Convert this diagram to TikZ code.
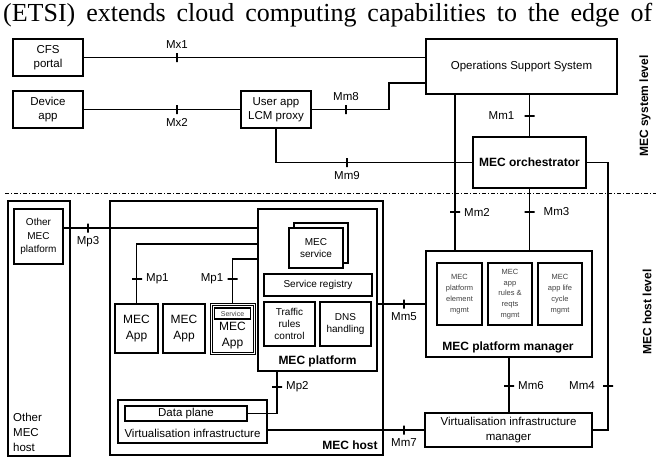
\documentclass[tikz,border=0pt]{standalone}
\usepackage{fontspec}
\setmainfont{Liberation Sans}
\newfontfamily\paperfont{Liberation Serif}
\newcommand{\fs}[2]{\fontsize{#1}{#2}\selectfont}

\begin{document}
\begin{tikzpicture}[x=1pt,y=-1pt]
\tikzstyle{box}=[draw,line width=1.4pt,align=center,inner sep=0pt,font=\fs{11.5}{14}]
\tikzstyle{small}=[box,font=\fs{7.5}{10.8},text=black!75]
\tikzstyle{vt}=[draw,line width=1.4pt,inner sep=0pt,minimum width=0pt,minimum height=9pt,label distance=5pt]
\tikzstyle{ht}=[draw,line width=1.4pt,inner sep=0pt,minimum width=10pt,minimum height=0pt,label distance=1pt]
\tikzstyle{wire}=[line width=1.4pt]
\tikzstyle{every label}=[font=\fs{11.5}{14}]
\useasboundingbox (0,0) rectangle (656,458);

\node[anchor=base west,inner sep=0pt,font=\paperfont\fs{26}{30}] (cap) at (3,21) {\makebox[649pt][s]{(ETSI) extends cloud computing capabilities to the edge of}};

% system level
\node[box,minimum width=70pt,minimum height=37pt] (cfs) at (48,57.5) {CFS\\portal};
\node[box,minimum width=70pt,minimum height=37pt] (dev) at (48,109.5) {Device\\app};
\node[box,minimum width=70pt,minimum height=37pt] (proxy) at (276,109.5) {User app\\LCM proxy};
\node[box,minimum width=191pt,minimum height=55pt] (oss) at (521.5,66.5) {Operations Support System};
\node[box,minimum width=113pt,minimum height=51pt,font=\bfseries\fs{12}{14}] (orch) at (529.5,162.5) {MEC orchestrator};

\draw[dash pattern=on 4pt off 2pt on 1pt off 2pt,line width=1pt] (5,193) -- (656,193);

% host level
\node[box,minimum width=62pt,minimum height=255pt] (omh) at (39,328.5) {};
\node[anchor=west,align=left,inner sep=0pt,font=\fs{11.5}{15}] (omhtxt) at (13,432) {Other\\MEC\\host};
\node[box,minimum width=49pt,minimum height=55pt,font=\fs{10}{13.5}] (omp) at (38.5,236.5) {Other\\MEC\\platform};
\node[box,minimum width=273pt,minimum height=254pt] (host) at (246.5,328) {};
\node[font=\bfseries\fs{12}{14}] (hosttxt) at (350,445) {MEC host};

\node[box,minimum width=119pt,minimum height=162pt] (mp) at (317.5,290) {};
\node[font=\bfseries\fs{12}{14}] (mptxt) at (317.5,361) {MEC platform};
\node[box,minimum width=54pt,minimum height=40pt] (svc2) at (321,243) {};
\node[box,fill=white,minimum width=54pt,minimum height=40pt,font=\fs{10}{12}] (svc) at (316,248) {MEC\\service};
\node[box,minimum width=108pt,minimum height=22pt,font=\fs{10}{12}] (reg) at (318,285) {Service registry};
\node[box,minimum width=51pt,minimum height=44pt,font=\fs{10}{12}] (trc) at (289.5,324) {Traffic\\rules\\control};
\node[box,minimum width=51pt,minimum height=44pt,font=\fs{10}{12}] (dns) at (345.5,324) {DNS\\handling};

\node[box,minimum width=43pt,minimum height=49pt,font=\fs{12}{16}] (app1) at (136.5,328.5) {MEC\\App};
\node[box,minimum width=42pt,minimum height=49pt,font=\fs{12}{16}] (app2) at (184,328.5) {MEC\\App};
\node[box,line width=1pt,double,double distance=1pt,minimum width=43pt,minimum height=49pt] (app3) at (232.5,328.5) {};
\node[box,line width=1.8pt,minimum width=36pt,minimum height=11pt,font=\fs{7}{8},text=black!75] (srv) at (232.5,313.5) {Service};
\node[align=center,inner sep=0pt,font=\fs{12}{16}] (app3txt) at (232.5,336) {MEC\\App};

\node[box,minimum width=149pt,minimum height=43pt] (vi) at (192.5,421.5) {};
\node[inner sep=0pt,font=\fs{11.5}{14}] (vitxt) at (192.5,433) {Virtualisation infrastructure};
\node[box,minimum width=122pt,minimum height=15pt] (dp) at (186,413.5) {Data plane};

\node[box,minimum width=166pt,minimum height=106pt] (pm) at (509,304) {};
\node[font=\bfseries\fs{12}{14}] (pmtxt) at (508,347) {MEC platform manager};
\node[small,minimum width=45pt,minimum height=62pt] (pm1) at (459.5,294) {MEC\\platform\\element\\mgmt};
\node[small,minimum width=44pt,minimum height=62pt] (pm2) at (510,294) {MEC\\app\\rules \&\\reqts\\mgmt};
\node[small,minimum width=44pt,minimum height=62pt] (pm3) at (560,294) {MEC\\app life\\cycle\\mgmt};
\node[box,minimum width=167pt,minimum height=34pt,font=\fs{11.5}{15}] (vim) at (508.5,430) {Virtualisation infrastructure\\manager};

\node[rotate=90,font=\bfseries\fs{12}{14}] (sys) at (645,106) {MEC system level};
\node[rotate=90,font=\bfseries\fs{12}{14}] (hl) at (647,312) {MEC host level};

% reference points
\coordinate (k8) at (389,83);
\coordinate (k2) at (455,0);
\coordinate (k4) at (608,0);
\coordinate (k3) at (0,228);
\coordinate (k1a) at (0,244);
\coordinate (k1b) at (0,259);
\coordinate (kp2) at (277,0);

\draw[wire] (cfs) -- (cfs -| oss.west);
\draw[wire] (dev) -- (proxy);
\draw[wire] (proxy.east) -| (k8) -- (k8 -| oss.west);
\draw[wire] (proxy.south) |- (orch.west);
\draw[wire] (orch) -- (orch |- oss.south);
\draw[wire] (k2 |- oss.south) -- (k2 |- pm.north);
\draw[wire] (orch.south) -- (orch.south |- pm.north);
\draw[wire] (orch.east) -| (k4 |- vim.east) -- (vim.east);
\draw[wire] (pm.south) -- (pm.south |- vim.north);
\draw[wire] (mp.east |- pm.west) -- (pm.west);
\draw[wire] (vim.west) -- (vim.west -| vi.east);
\draw[wire] (k3 -| omp.east) -- (k3 -| mp.west);
\draw[wire] (app1.north) |- (k1a -| mp.west);
\draw[wire] (app3.north) |- (k1b -| mp.west);
\draw[wire] (dp.east) -| (kp2 |- mp.south);

% reference points on the wires
\node[vt,label=above:Mx1] (mx1) at (177,57.5) {};
\node[vt,label=below:Mx2] (mx2) at (177,109.5) {};
\node[vt,label=above:Mm8] (mm8) at (346,109.5) {};
\node[vt,label=below:Mm9] (mm9) at (347,162.5) {};
\node[ht,label={[label distance=6pt]left:Mm1}] (mm1) at (529.5,116) {};
\node[ht,label=right:Mm2] (mm2) at (455,212) {};
\node[ht,label={[label distance=5pt]right:Mm3}] (mm3) at (529.5,212) {};
\node[ht,label={[label distance=4pt]left:Mm4}] (mm4) at (608,386) {};
\node[vt,label=below:Mm5] (mm5) at (404,304) {};
\node[ht,label=right:Mm6] (mm6) at (509,386) {};
\node[vt,label=below:Mm7] (mm7) at (404,430) {};
\node[vt,label=below:Mp3] (mp3) at (88,228) {};
\node[ht,label=right:Mp1] (mp1a) at (137,279) {};
\node[ht,label=left:Mp1] (mp1b) at (232.5,279) {};
\node[ht,label=right:Mp2] (mp2) at (277,387) {};
\end{tikzpicture}
\end{document}
